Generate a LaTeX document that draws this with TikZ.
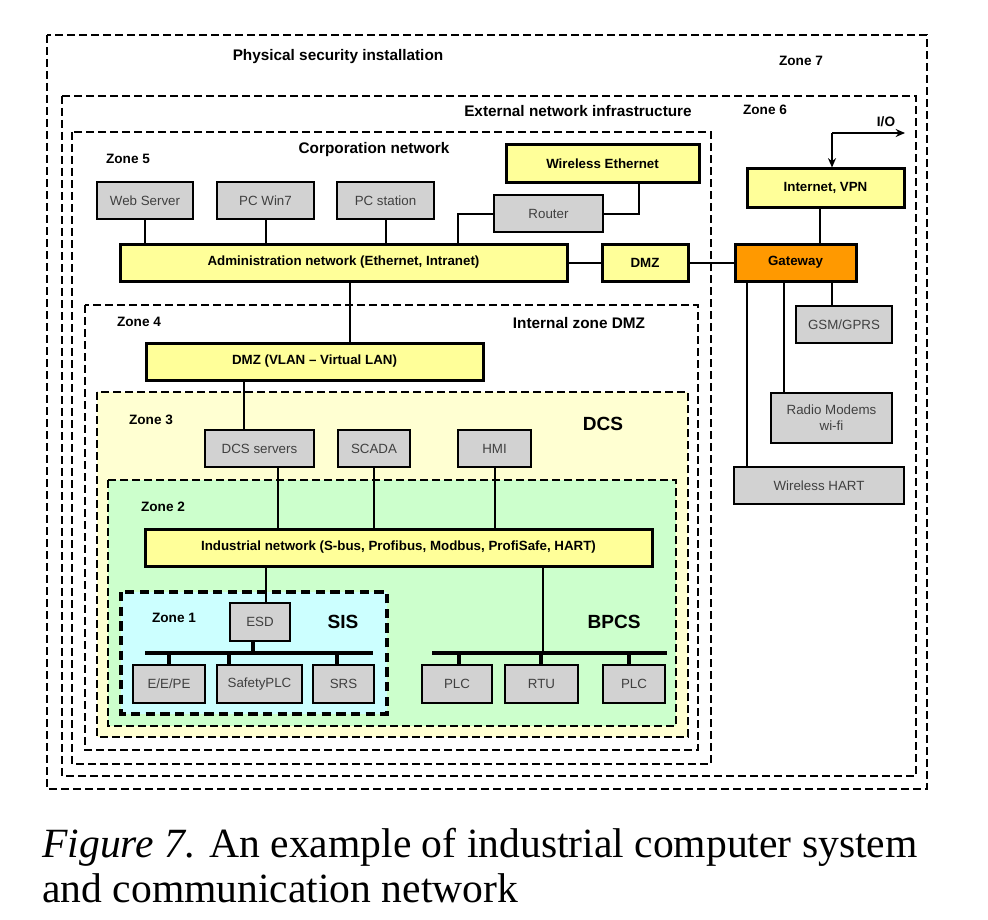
\documentclass[tikz,border=0pt]{standalone}
\usepackage{fontspec}
\setmainfont{Liberation Sans}
\newfontfamily\capfont{Liberation Serif}
\usetikzlibrary{arrows.meta}
\definecolor{ybox}{HTML}{FFFF99}
\definecolor{gfill}{HTML}{D2D2D2}
\definecolor{orangebox}{HTML}{FF9900}
\definecolor{zthree}{HTML}{FFFFD2}
\definecolor{ztwo}{HTML}{CCFFCC}
\definecolor{zone1fill}{HTML}{CCFFFF}
\newcommand\bx[7]{\node[#2,minimum width={(#5-#3)*0.75pt},minimum height={(#6-#4)*0.75pt}] (#1) at ({(#3+#5)/2},{(#4+#6)/2}) {#7};}
\begin{document}
\begin{tikzpicture}[x=0.75pt,y=-0.75pt,
  ybox/.style={draw, line width=2.25pt, fill=ybox, inner sep=0pt, font=\bfseries\fontsize{10}{12}\selectfont},
  obox/.style={ybox, fill=orangebox},
  gbox/.style={draw, line width=1.5pt, fill=gfill, inner sep=0pt, text=black!75, align=center, font=\fontsize{10}{12}\selectfont},
  zone/.style={draw, line width=1.5pt, dash pattern=on 6pt off 3pt},
  zoneone/.style={draw, line width=2.3pt, dash pattern=on 7pt off 4pt},
  conn/.style={line width=1.5pt},
  bus/.style={line width=2.6pt},
  title/.style={font=\bfseries\fontsize{11.5}{13}\selectfont, inner sep=0pt},
  zlabel/.style={font=\bfseries\fontsize{10.2}{12}\selectfont, inner sep=0pt},
  big/.style={font=\bfseries\fontsize{14.3}{16}\selectfont, inner sep=0pt},
  caption/.style={font=\capfont\fontsize{31.2}{36}\selectfont, inner sep=0pt, anchor=base west}
]
\useasboundingbox[fill=white] (0,0) rectangle (988,920);

% zones
\draw[zone] (47,35) rectangle (927,789);
\draw[zone] (62,96) rectangle (916,776);
\draw[zone] (72,132) rectangle (711,764);
\draw[zone] (85,305) rectangle (698,750);
\draw[zone, fill=zthree] (97,392) rectangle (688,737);
\draw[zone, fill=ztwo] (108,480) rectangle (676,726);
\draw[zoneone, fill=zone1fill] (121,592) rectangle (387,714);

% zone titles
\node[title] (tphys) at (338,57) {Physical security installation};
\node[zlabel] (z7) at (801,61) {Zone 7};
\node[title] (text) at (578,111) {External network infrastructure};
\node[zlabel] (z6) at (765,110) {Zone 6};
\node[title] (tcorp) at (374,150) {Corporation network};
\node[zlabel] (z5) at (128,159) {Zone 5};
\node[zlabel] (z4) at (139,322) {Zone 4};
\node[title] (tint) at (579,323) {Internal zone DMZ};
\node[zlabel] (z3) at (151,420) {Zone 3};
\node[big] (tdcs) at (603,424) {DCS};
\node[zlabel] (z2) at (163,507) {Zone 2};
\node[zlabel] (z1) at (174,618) {Zone 1};
\node[big] (tsis) at (343,622) {SIS};
\node[big] (tbpcs) at (614,622) {BPCS};
\node[zlabel] (tio) at (886,122) {I/O};

% boxes
\bx{web}{gbox}{97}{182}{193}{219}{Web Server}
\bx{pcw}{gbox}{217}{182}{314}{219}{PC Win7}
\bx{pcs}{gbox}{337}{182}{434}{219}{PC station}
\bx{wle}{ybox}{506}{145}{699}{182}{Wireless Ethernet}
\bx{router}{gbox}{494}{195}{603}{232}{Router}
\bx{admin}{ybox}{120}{244}{567}{281}{Administration network (Ethernet, Intranet)}
\bx{dmz}{ybox}{602}{244}{688}{281}{DMZ}
\bx{gw}{obox}{735}{244}{856}{281}{Gateway}
\bx{inet}{ybox}{747}{169}{904}{207}{Internet, VPN}
\bx{gsm}{gbox}{796}{306}{892}{343}{GSM/GPRS}
\bx{radio}{gbox}{771}{393}{892}{443}{Radio Modems\\wi-fi}
\bx{hart}{gbox}{734}{467}{904}{504}{Wireless HART}
\bx{vlan}{ybox}{146}{343}{483}{380}{DMZ (VLAN -- Virtual LAN)}
\bx{dcs}{gbox}{205}{430}{314}{467}{DCS servers}
\bx{scada}{gbox}{338}{430}{410}{467}{SCADA}
\bx{hmi}{gbox}{458}{430}{531}{467}{HMI}
\bx{ind}{ybox}{145}{529}{652}{566}{Industrial network (S-bus, Profibus, Modbus, ProfiSafe, HART)}
\bx{esd}{gbox}{230}{603}{290}{641}{ESD}
\bx{eepe}{gbox}{133}{665}{205}{703}{E/E/PE}
\bx{splc}{gbox}{217}{665}{302}{703}{SafetyPLC}
\bx{srs}{gbox}{313}{665}{374}{703}{SRS}
\bx{plca}{gbox}{422}{665}{492}{703}{PLC}
\bx{rtu}{gbox}{505}{665}{578}{703}{RTU}
\bx{plcb}{gbox}{603}{665}{665}{703}{PLC}

% helper coordinates
\coordinate (xrw) at (639,0);
\coordinate (xra) at (458,0);
\coordinate (xin) at (820,0);
\coordinate (io) at (832,133);
\coordinate (ioend) at (905,133);
\coordinate (xg1) at (747,0);
\coordinate (xg2) at (784,0);
\coordinate (xg3) at (832,0);
\coordinate (xav) at (350,0);
\coordinate (xvd) at (244,0);
\coordinate (xd) at (278,0);
\coordinate (xe) at (266,0);
\coordinate (xb) at (543,0);
\coordinate (sisL) at (145,653);
\coordinate (sisR) at (373,653);
\coordinate (bpL) at (432,653);
\coordinate (bpR) at (667,653);
\coordinate (xs1) at (169,0);
\coordinate (xs2) at (229,0);
\coordinate (xs3) at (337,0);
\coordinate (xp1) at (459,0);
\coordinate (xp2) at (541,0);
\coordinate (xp3) at (629,0);
\coordinate (xesd) at (253,0);

% connectors (corporate)
\draw[conn] (web.south) -- (web.south |- admin.north);
\draw[conn] (pcw.south) -- (pcw.south |- admin.north);
\draw[conn] (pcs.south) -- (pcs.south |- admin.north);
\draw[conn] (router.east) -| (wle.south -| xrw);
\draw[conn] (router.west) -| (admin.north -| xra);
\draw[conn] (admin.east) -- (dmz.west);
\draw[conn] (dmz.east) -- (gw.west);
\draw[conn] (inet.south -| xin) -- (gw.north -| xin);
\draw[conn, -{Stealth[length=7pt,width=6pt]}] (io) -- (ioend);
\draw[conn, -{Stealth[length=7pt,width=6pt]}] (io) -- (inet.north -| io);
\draw[conn] (gw.south -| xg1) -- (hart.north -| xg1);
\draw[conn] (gw.south -| xg2) -- (radio.north -| xg2);
\draw[conn] (gw.south -| xg3) -- (gsm.north -| xg3);
\draw[conn] (admin.south -| xav) -- (vlan.north -| xav);
\draw[conn] (vlan.south -| xvd) -- (dcs.north -| xvd);
\draw[conn] (dcs.south -| xd) -- (ind.north -| xd);
\draw[conn] (scada.south) -- (scada.south |- ind.north);
\draw[conn] (hmi.south) -- (hmi.south |- ind.north);
\draw[conn] (ind.south -| xe) -- (esd.north -| xe);
\draw[conn] (ind.south -| xb) -- (bpL -| xb);

% SIS bus
\draw[bus] (sisL) -- (sisR);
\draw[bus] (esd.south -| xesd) -- (sisL -| xesd);
\draw[bus] (sisL -| xs1) -- (eepe.north -| xs1);
\draw[bus] (sisL -| xs2) -- (splc.north -| xs2);
\draw[bus] (sisL -| xs3) -- (srs.north -| xs3);

% BPCS bus
\draw[bus] (bpL) -- (bpR);
\draw[bus] (bpL -| xp1) -- (plca.north -| xp1);
\draw[bus] (bpL -| xp2) -- (rtu.north -| xp2);
\draw[bus] (bpL -| xp3) -- (plcb.north -| xp3);

% caption
\node[caption] (cap1) at (42,857) {\textit{Figure 7.} An example of industrial computer system};
\node[caption] (cap2) at (42,902) {and communication network};
\end{tikzpicture}
\end{document}
